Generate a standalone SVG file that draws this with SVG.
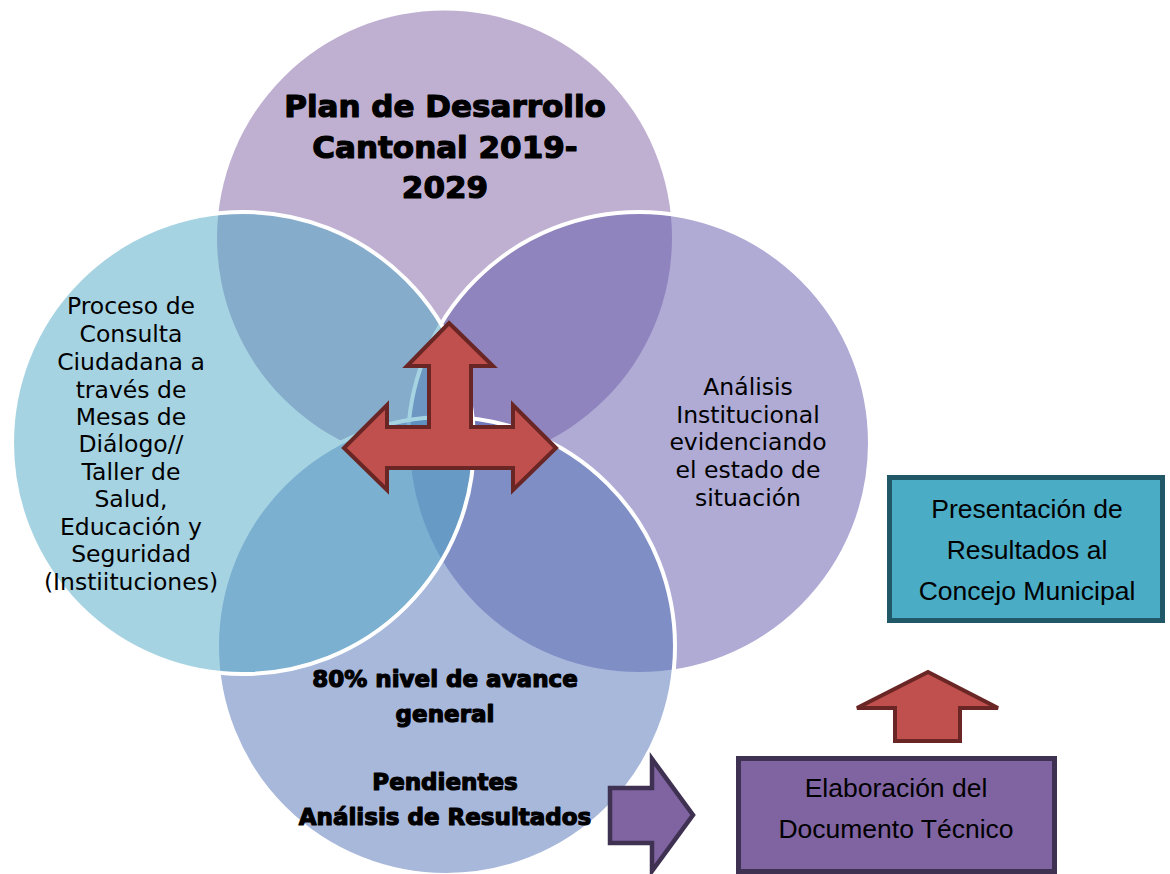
<svg xmlns="http://www.w3.org/2000/svg" width="1170" height="874" viewBox="0 0 1170 874">
  <style>
    .circ { stroke: #FFFFFF; stroke-width: 4; fill-opacity: 0.5; }
    .lbl { font-family: "DejaVu Sans", "Liberation Sans", sans-serif; font-size: 23.5px; fill: #000; text-anchor: middle; }
    .bold { font-family: "DejaVu Sans", "Liberation Sans", sans-serif; font-weight: bold; fill: #000; stroke: #000; stroke-width: 1.2; stroke-linejoin: round; text-anchor: middle; }
    .box { font-family: "Liberation Sans", "DejaVu Sans", sans-serif; font-size: 26.5px; fill: #000; text-anchor: middle; }
    .redArrow { fill: #C0504D; stroke: #6A2624; stroke-width: 4; stroke-linejoin: miter; }
    .purpleArrow { fill: #8064A2; stroke: #3F3151; stroke-width: 4.5; stroke-linejoin: miter; }
  </style>
  <rect width="1170" height="874" fill="#FFFFFF"/>

  <g id="node-plan">
    <circle cx="444.5" cy="238" r="227.5" fill="#BFB0D1"/>
  </g>
  <g id="node-analisis">
    <circle class="circ" cx="639" cy="443" r="231" fill="#5F57AB"/>
  </g>
  <g id="node-avance">
    <circle class="circ" cx="446" cy="646" r="229" fill="#5171B7"/>
  </g>
  <g id="node-consulta">
    <circle class="circ" cx="243" cy="443" r="231" fill="#4DA7C5"/>
  </g>

  <g id="labels-circles">
    <text class="bold" font-size="31" x="445" y="117">Plan de Desarrollo</text>
    <text class="bold" font-size="31" x="445" y="158">Cantonal 2019-</text>
    <text class="bold" font-size="31" x="445" y="198">2029</text>

    <text class="lbl" x="131" y="314">Proceso de</text>
    <text class="lbl" x="131" y="342">Consulta</text>
    <text class="lbl" x="131" y="370">Ciudadana a</text>
    <text class="lbl" x="131" y="397.5">través de</text>
    <text class="lbl" x="131" y="425">Mesas de</text>
    <text class="lbl" x="131" y="452">Diálogo//</text>
    <text class="lbl" x="131" y="480">Taller de</text>
    <text class="lbl" x="131" y="507">Salud,</text>
    <text class="lbl" x="131" y="535">Educación y</text>
    <text class="lbl" x="131" y="562">Seguridad</text>
    <text class="lbl" x="131" y="590">(Instiituciones)</text>

    <text class="lbl" x="748" y="395">Análisis</text>
    <text class="lbl" x="748" y="423">Institucional</text>
    <text class="lbl" x="748" y="450">evidenciando</text>
    <text class="lbl" x="748" y="478">el estado de</text>
    <text class="lbl" x="748" y="506">situación</text>

    <text class="bold" font-size="23" x="445" y="687">80% nivel de avance</text>
    <text class="bold" font-size="23" x="445" y="722">general</text>
    <text class="bold" font-size="23" x="445" y="790">Pendientes</text>
    <text class="bold" font-size="23" x="445" y="825">Análisis de Resultados</text>
  </g>

  <g id="node-presentacion">
    <rect x="889.5" y="477.5" width="273" height="143" fill="#4BACC6" stroke="#215867" stroke-width="5"/>
    <text class="box" x="1027" y="518">Presentación de</text>
    <text class="box" x="1027" y="559">Resultados al</text>
    <text class="box" x="1027" y="600">Concejo Municipal</text>
  </g>

  <g id="node-elaboracion">
    <rect x="738.5" y="758.5" width="316" height="113" fill="#8064A2" stroke="#3F3151" stroke-width="5"/>
    <text class="box" x="896" y="797">Elaboración del</text>
    <text class="box" x="896" y="838">Documento Técnico</text>
  </g>

  <g id="connectors">
    <polygon class="redArrow" points="449,323 493,366 471,366 471,427 513,427 513,405 556,448 513,490 513,468 387,468 387,490 344,448 387,405 387,427 429,427 429,366 407,366"/>
    <polygon class="purpleArrow" points="610,788 652,788 652,759 693,815 652,871 652,843 610,843"/>
    <polygon class="redArrow" points="928,672 998,708 960,708 960,741 895,741 895,708 857,708"/>
  </g>
</svg>
